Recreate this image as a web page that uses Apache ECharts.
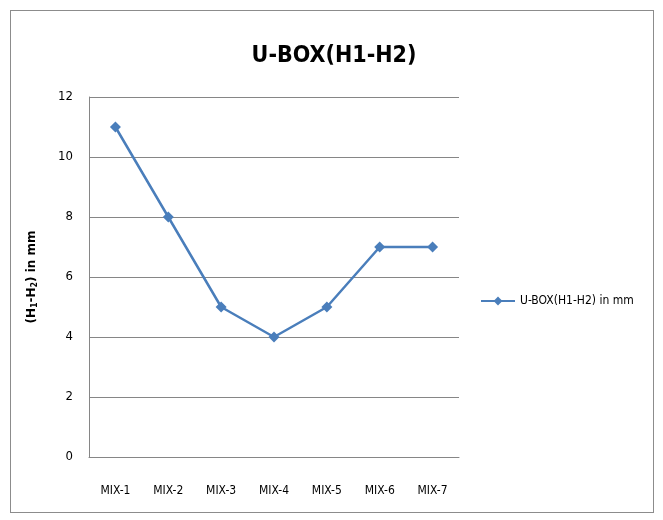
<!DOCTYPE html>
<html><head><meta charset="utf-8">
<script src="https://cdn.jsdelivr.net/npm/echarts@6/dist/echarts.min.js"></script>
<style>
html,body{margin:0;padding:0;background:#fff;}
#frame{position:absolute;left:10px;top:10px;width:644px;height:503px;border:1px solid #8c8c8c;box-sizing:border-box;}
#c{position:absolute;left:0;top:0;width:663px;height:520px;}
</style></head>
<body>
<div id="frame"></div>
<div id="c"></div>
<script>
const categories = ['MIX-1','MIX-2','MIX-3','MIX-4','MIX-5','MIX-6','MIX-7'];
const values = [11, 8, 5, 4, 5, 7, 7];
const yTicks = [0, 2, 4, 6, 8, 10, 12];
const seriesName = 'U-BOX(H1-H2) in mm';
const titleText = 'U-BOX(H1-H2)';

const chart = echarts.init(document.getElementById('c'), null, {renderer:'canvas'});
const font = '"DejaVu Sans Condensed", "Liberation Sans Narrow", sans-serif';
chart.setOption({
  animation:false,
  backgroundColor:'transparent',
  title:{text:titleText,left:329,top:40,textAlign:'center',
    textStyle:{fontFamily:font,fontSize:23,fontWeight:'bold',color:'#000'}},
  legend:{left:475,top:290,itemWidth:34,itemHeight:11,itemGap:4,
    data:[seriesName],
    textStyle:{fontFamily:font,fontSize:12,color:'#000'}},
  grid:{left:89,right:204,top:97,bottom:63,containLabel:false},
  xAxis:{type:'category',data:categories,boundaryGap:true,
    axisLine:{lineStyle:{color:'#868686',width:1}},
    axisTick:{show:false},
    axisLabel:{fontFamily:font,fontSize:12,color:'#000',margin:28}},
  yAxis:{type:'value',min:yTicks[0],max:yTicks[yTicks.length-1],interval:2,
    name:'{p|(H}{s|1}{p|-H}{s|2}{p|) in mm}',nameLocation:'middle',nameGap:50,nameRotate:90,
    nameTextStyle:{rich:{
      p:{fontFamily:'"DejaVu Sans", sans-serif',fontSize:12,fontWeight:'bold',color:'#000'},
      s:{fontFamily:'"DejaVu Sans", sans-serif',fontSize:8,fontWeight:'bold',color:'#000',padding:[6,0,0,0]}}},
    axisLine:{show:true,lineStyle:{color:'#868686',width:1}},
    axisTick:{show:false},
    splitLine:{lineStyle:{color:'#868686',width:1}},
    axisLabel:{fontFamily:font,fontSize:13,color:'#000',margin:16}},
  series:[{name:seriesName,type:'line',data:values,
    symbol:'diamond',symbolSize:11,
    lineStyle:{color:'#4A7EBB',width:2.5},
    itemStyle:{color:'#4A7EBB'}}]
});
</script>
</body></html>
